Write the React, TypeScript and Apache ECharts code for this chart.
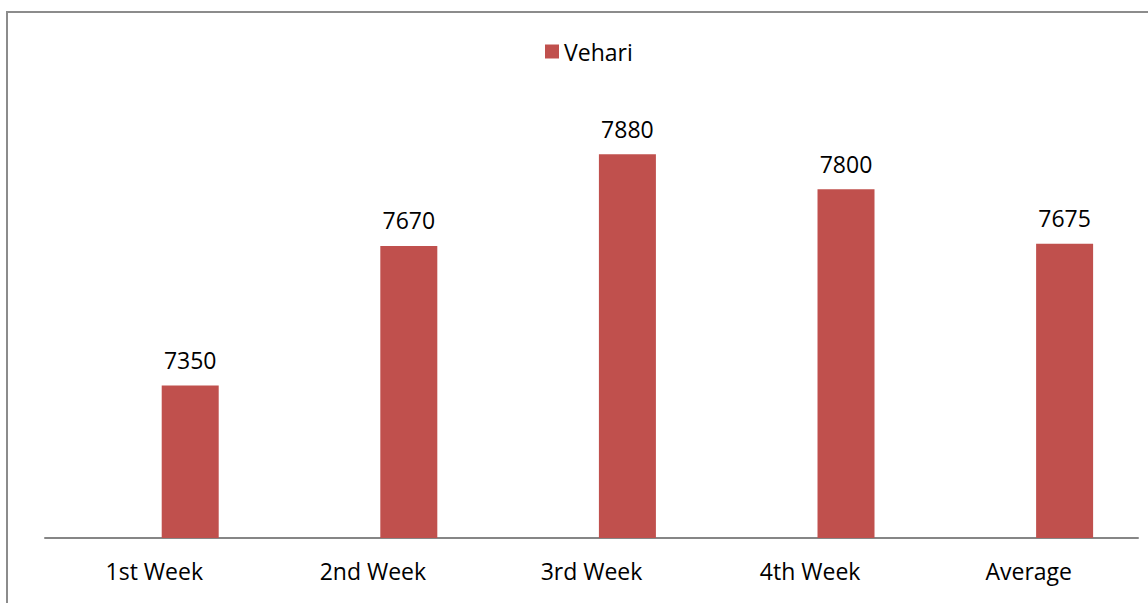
import React, { useEffect, useRef } from "react";
import * as echarts from "echarts";

const categories = ["1st Week", "2nd Week", "3rd Week", "4th Week", "Average"];
const vehariValues = [7350, 7670, 7880, 7800, 7675];
const blankValues = [null, null, null, null, null];
const seriesName = "Vehari";

export default function App() {
  const ref = useRef<HTMLDivElement>(null);
  useEffect(() => {
    if (!ref.current) return;
    const chart = echarts.init(ref.current, null, { renderer: "svg" });
    const font = "'Open Sans', sans-serif";
    chart.setOption({
      animation: false,
      backgroundColor: "#ffffff",
      textStyle: { fontFamily: font },
      legend: {
        data: [seriesName],
        left: 540,
        top: 35,
        itemWidth: 14,
        itemHeight: 14,
        itemGap: 10,
        icon: "rect",
        textStyle: { fontSize: 23, color: "#000", fontFamily: font },
      },
      grid: { left: 45, right: 10, top: 102, bottom: 65 },
      xAxis: {
        type: "category",
        data: categories,
        axisLine: { show: true, lineStyle: { color: "#868686", width: 2 } },
        axisTick: { show: false },
        axisLabel: { fontSize: 23, color: "#000", margin: 21, fontFamily: font },
      },
      yAxis: {
        type: "value",
        min: 7000,
        max: 8000,
        show: false,
        splitLine: { show: false },
      },
      series: [
        {
          name: "blank",
          type: "bar",
          data: blankValues,
          barWidth: 57,
          barGap: "26%",
        },
        {
          name: seriesName,
          type: "bar",
          data: vehariValues,
          barWidth: 57,
          barGap: "26%",
          itemStyle: { color: "#C0504D" },
          label: {
            show: true,
            position: "top",
            distance: 14,
            fontSize: 23,
            color: "#000",
            fontFamily: font,
          },
        },
      ],
      graphic: [
        {
          type: "polyline",
          shape: { points: [[7, 610], [7, 12], [1160, 12]] },
          style: { stroke: "#8c8c8c", lineWidth: 2, fill: "none" },
          silent: true,
        },
      ],
    });
    return () => chart.dispose();
  }, []);
  return (
    <div
      ref={ref}
      style={{ position: "fixed", left: 0, top: 0, width: 1148, height: 603 }}
    />
  );
}
